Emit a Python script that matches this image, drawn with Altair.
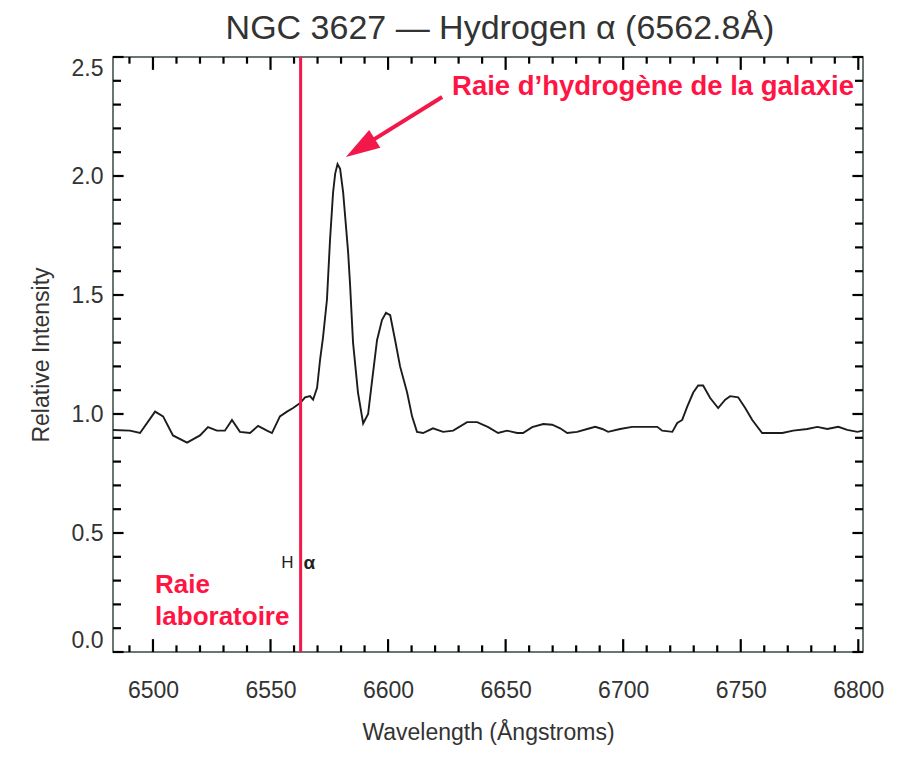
import altair as alt
import pandas as pd

# ---------------- data ----------------
wavelength = [
    6483.0, 6490.2, 6494.5, 6500.9, 6504.3, 6508.5, 6514.5, 6520.0, 6523.4, 6527.2,
    6530.6, 6533.6, 6537.0, 6541.3, 6544.7, 6548.5, 6550.6, 6554.0, 6557.0, 6559.6,
    6562.6, 6564.7, 6566.8, 6568.1, 6569.8, 6571.1, 6572.3, 6574.0, 6575.3, 6576.6,
    6577.5, 6578.5, 6579.6, 6580.9, 6582.0, 6583.0, 6583.8, 6585.1, 6587.2, 6589.4,
    6591.5, 6593.2, 6595.3, 6597.4, 6599.1, 6600.9, 6603.0, 6605.1, 6608.1, 6610.2,
    6612.3, 6614.9, 6619.1, 6623.4, 6627.7, 6633.6, 6637.9, 6642.6, 6646.8, 6650.6,
    6654.9, 6657.4, 6661.3, 6666.0, 6669.8, 6673.2, 6676.2, 6680.4, 6684.7, 6688.1,
    6691.1, 6693.6, 6698.7, 6703.8, 6714.5, 6716.6, 6720.9, 6723.0, 6725.1, 6727.2,
    6729.8, 6731.9, 6734.0, 6737.0, 6740.4, 6743.4, 6745.5, 6748.9, 6751.9, 6754.9,
    6759.1, 6767.7, 6772.3, 6778.3, 6782.6, 6786.8, 6791.5, 6795.3, 6799.6, 6802.0,
]
intensity = [
    0.933, 0.930, 0.920, 1.010, 0.990, 0.910, 0.880, 0.910, 0.945, 0.930,
    0.930, 0.975, 0.925, 0.920, 0.950, 0.930, 0.920, 0.990, 1.010, 1.025,
    1.046, 1.070, 1.075, 1.060, 1.110, 1.230, 1.320, 1.480, 1.730, 1.930,
    2.010, 2.050, 2.030, 1.930, 1.800, 1.680, 1.550, 1.300, 1.090, 0.960,
    1.000, 1.140, 1.310, 1.395, 1.425, 1.415, 1.310, 1.200, 1.090, 0.990,
    0.925, 0.920, 0.940, 0.925, 0.930, 0.966, 0.966, 0.945, 0.920, 0.930,
    0.920, 0.920, 0.945, 0.958, 0.955, 0.940, 0.920, 0.925, 0.937, 0.946,
    0.937, 0.925, 0.937, 0.946, 0.946, 0.930, 0.925, 0.962, 0.975, 1.030,
    1.090, 1.120, 1.120, 1.067, 1.025, 1.060, 1.075, 1.070, 1.025, 0.975,
    0.920, 0.920, 0.930, 0.937, 0.946, 0.937, 0.946, 0.933, 0.925, 0.930,
]

x_label_values = [6500, 6550, 6600, 6650, 6700, 6750, 6800]
y_label_values = [0.0, 0.5, 1.0, 1.5, 2.0, 2.5]
x_tick_values = list(range(6490, 6801, 10))
y_tick_values = [round(i * 0.1, 1) for i in range(0, 26)]

X_MIN, X_MAX = 6483, 6802
Y_MIN, Y_MAX = 0.0, 2.5
H_ALPHA = 6562.8

title_text = "NGC 3627 \u2014 Hydrogen \u03b1 (6562.8\u00c5)"
galaxy_label = ["Raie d\u2019hydrog\u00e8ne de la galaxie"]
galaxy_label_pos = [(6627.2, 2.374)]
lab_lines = ["Raie", "laboratoire"]
lab_line_pos = [(6500.9, 0.283), (6500.9, 0.147)]
ha_parts = ["H", "\u03b1"]
ha_level = 0.374
arrow_tail = (6623.0, 2.332)
arrow_head = (6588.2, 2.118)

# tick lengths expressed in axis units (inside-pointing frame ticks)
X_TICK_MAJOR, X_TICK_MINOR = 0.054, 0.028   # intensity units, on top/bottom edges
Y_TICK_MAJOR, Y_TICK_MINOR = 4.5, 3.4       # Angstrom units, on left/right edges

RED = "#f2184a"
TEXT_RED = "#ff1444"
FONT = "Liberation Sans"
TX = "Wavelength (\u00c5ngstroms)"
TY = "Relative Intensity"

# ---------------- chart ----------------
xs = alt.Scale(domain=[X_MIN, X_MAX], nice=False, zero=False)
ys = alt.Scale(domain=[Y_MIN, Y_MAX], nice=False, zero=False)

spec = pd.DataFrame({"wl": wavelength, "I": intensity})

line = alt.Chart(spec).mark_line(color="#1c1c1c", strokeWidth=1.9).encode(
    x=alt.X("wl:Q", scale=xs, title=TX, axis=alt.Axis(
        values=x_label_values, format="d",
        labelFlush=False, labelPadding=27, labelBaseline="top", titlePadding=19)),
    y=alt.Y("I:Q", scale=ys, title=TY, axis=alt.Axis(
        values=y_label_values, format=".1f",
        labelFlush=True, labelPadding=10, titlePadding=18)),
)

x_len = [X_TICK_MAJOR if v % 50 == 0 else X_TICK_MINOR for v in x_tick_values]
y_len = [Y_TICK_MAJOR if round(v * 10) % 5 == 0 else Y_TICK_MINOR for v in y_tick_values]

rows = []
for v, l in zip(x_tick_values, x_len):
    rows.append({"ta": float(v), "tb": float(v), "ua": Y_MIN, "ub": Y_MIN + l})
    rows.append({"ta": float(v), "tb": float(v), "ua": Y_MAX, "ub": Y_MAX - l})
for v, l in zip(y_tick_values, y_len):
    rows.append({"ta": float(X_MIN), "tb": X_MIN + l, "ua": v, "ub": v})
    rows.append({"ta": float(X_MAX), "tb": X_MAX - l, "ua": v, "ub": v})
ticks_df = pd.DataFrame(rows)

frame_ticks = alt.Chart(ticks_df).mark_rule(color="#000000", strokeWidth=2.2).encode(
    x=alt.X("ta:Q", title=TX), x2="tb:Q",
    y=alt.Y("ua:Q", title=TY), y2="ub:Q")

lab_rule = alt.Chart(pd.DataFrame({"wl": [H_ALPHA]})).mark_rule(
    color=RED, strokeWidth=3).encode(x=alt.X("wl:Q", title=TX))

ha_df = pd.DataFrame({"wl": [H_ALPHA, H_ALPHA], "I": [ha_level, ha_level],
                      "t": ha_parts})
ha_h = alt.Chart(ha_df.iloc[[0]]).mark_text(
    align="right", baseline="middle", dx=-7, fontSize=17, font=FONT, color="#222").encode(
    x=alt.X("wl:Q", title=TX), y=alt.Y("I:Q", title=TY), text="t:N")
ha_a = alt.Chart(ha_df.iloc[[1]]).mark_text(
    align="left", baseline="middle", dx=3, fontSize=19, font=FONT, fontWeight="bold",
    color="#222").encode(
    x=alt.X("wl:Q", title=TX), y=alt.Y("I:Q", title=TY), text="t:N")

lab_df = pd.DataFrame({"wl": [p[0] for p in lab_line_pos],
                       "I": [p[1] for p in lab_line_pos], "t": lab_lines})
lab_text = alt.Chart(lab_df).mark_text(
    align="left", baseline="middle", fontSize=26, fontWeight="bold", font=FONT,
    color=TEXT_RED).encode(
    x=alt.X("wl:Q", title=TX), y=alt.Y("I:Q", title=TY), text="t:N")

gal_df = pd.DataFrame({"wl": [p[0] for p in galaxy_label_pos],
                       "I": [p[1] for p in galaxy_label_pos], "t": galaxy_label})
gal_text = alt.Chart(gal_df).mark_text(
    align="left", baseline="middle", fontSize=27.5, fontWeight="bold", font=FONT,
    color=TEXT_RED).encode(
    x=alt.X("wl:Q", title=TX), y=alt.Y("I:Q", title=TY), text="t:N")

shaft_df = pd.DataFrame({"wl": [arrow_tail[0], arrow_head[0]],
                         "I": [arrow_tail[1], arrow_head[1]]})
shaft = alt.Chart(shaft_df).mark_line(color=RED, strokeWidth=4).encode(
    x=alt.X("wl:Q", title=TX), y=alt.Y("I:Q", title=TY))
head = alt.Chart(shaft_df.iloc[[1]]).mark_point(
    shape="M0,-1L0.62,1L-0.62,1Z", filled=True, size=1156, angle=238,
    color=RED, opacity=1).encode(
    x=alt.X("wl:Q", title=TX), y=alt.Y("I:Q", title=TY))

chart = alt.layer(
    frame_ticks, line, lab_rule,
    ha_h, ha_a, lab_text, gal_text, shaft, head,
).properties(
    width=750, height=595,
    autosize=alt.AutoSizeParams(type="none"),
    padding={"left": 105, "top": 49, "right": 39, "bottom": 102},
    title=alt.TitleParams(title_text, font=FONT, fontSize=34, fontWeight="normal",
                          color="#333333", anchor="middle", offset=10, dx=12),
    background="white",
).configure_view(
    stroke="#3b4848", strokeWidth=1.5,
).configure_axis(
    grid=False, domain=False, ticks=False,
    labelFont=FONT, labelFontSize=23, labelColor="#333333",
    titleFont=FONT, titleFontSize=23, titleFontWeight="normal", titleColor="#333333",
)

chart.save("out.html", embed_options={"renderer": "svg", "actions": False})
